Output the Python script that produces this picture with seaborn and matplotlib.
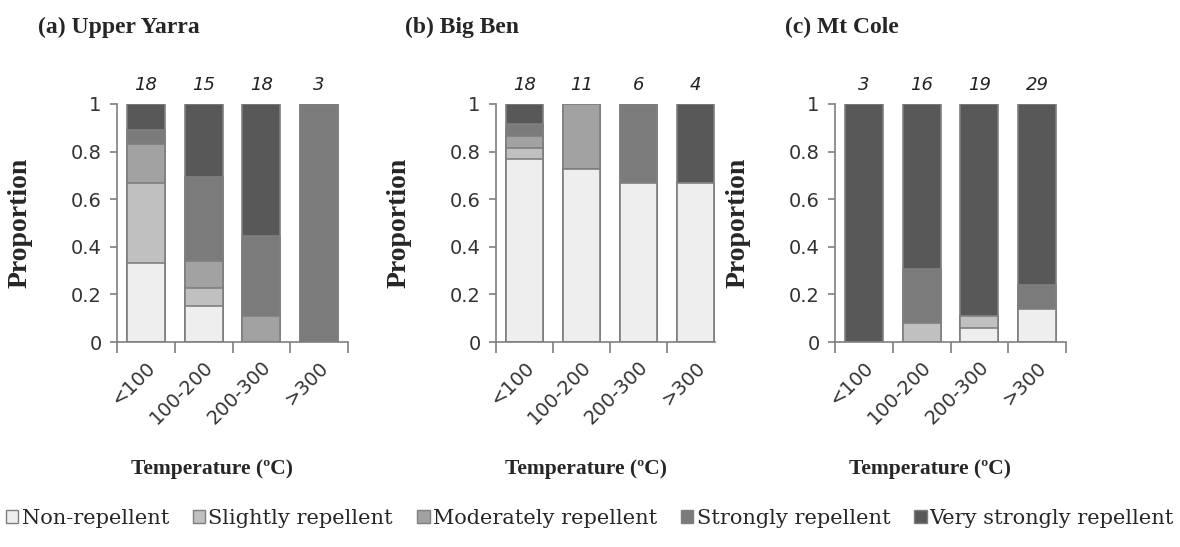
import matplotlib

matplotlib.use("Agg")
import matplotlib.pyplot as plt
import numpy as np
import pandas as pd
import seaborn as sns
from matplotlib.patches import Patch
from matplotlib.ticker import FixedLocator

TEMPS = ["<100", "100-200", "200-300", ">300"]
CLASSES = [
    "Non-repellent",
    "Slightly repellent",
    "Moderately repellent",
    "Strongly repellent",
    "Very strongly repellent",
]
CLASS_COLORS = ["#eeeeee", "#c0c0c0", "#a2a2a2", "#7b7b7b", "#585858"]

# Upper Yarra
yarra_n = [18, 15, 18, 3]
yarra_non = [0.333, 0.15, 0.0, 0.0]
yarra_slight = [0.333, 0.075, 0.0, 0.0]
yarra_moderate = [0.167, 0.115, 0.111, 0.0]
yarra_strong = [0.056, 0.355, 0.333, 1.0]
yarra_very = [0.111, 0.305, 0.556, 0.0]

# Big Ben
bigben_n = [18, 11, 6, 4]
bigben_non = [0.77, 0.725, 0.667, 0.667]
bigben_slight = [0.045, 0.0, 0.0, 0.0]
bigben_moderate = [0.05, 0.275, 0.0, 0.0]
bigben_strong = [0.05, 0.0, 0.333, 0.0]
bigben_very = [0.085, 0.0, 0.0, 0.333]

# Mt Cole
mtcole_n = [3, 16, 19, 29]
mtcole_non = [0.0, 0.0, 0.057, 0.14]
mtcole_slight = [0.0, 0.078, 0.053, 0.0]
mtcole_moderate = [0.0, 0.0, 0.0, 0.0]
mtcole_strong = [0.0, 0.227, 0.0, 0.10]
mtcole_very = [1.0, 0.695, 0.89, 0.76]

SITES = [
    ("(a) Upper Yarra", yarra_n,
     [yarra_non, yarra_slight, yarra_moderate, yarra_strong, yarra_very]),
    ("(b) Big Ben", bigben_n,
     [bigben_non, bigben_slight, bigben_moderate, bigben_strong, bigben_very]),
    ("(c) Mt Cole", mtcole_n,
     [mtcole_non, mtcole_slight, mtcole_moderate, mtcole_strong, mtcole_very]),
]

W, H = 1180, 547
EDGE = "#7f7f7f"

sns.set_theme(style="white")
plt.rcParams["font.family"] = ["DejaVu Sans"]


def px_box(x0, x1, y0, y1):
    return [x0 / W, 1 - y1 / H, (x1 - x0) / W, (y1 - y0) / H]


def to_long(props: list[list[float]]) -> pd.DataFrame:
    rows = []
    for cls, vals in zip(CLASSES, props):
        for t, v in zip(TEMPS, vals):
            rows.append({"temp": t, "cls": cls, "prop": v})
    df = pd.DataFrame(rows)
    df["cls"] = pd.Categorical(df["cls"], CLASSES, ordered=True)
    df = df.sort_values(["temp", "cls"])
    df["cum"] = df.groupby("temp", sort=False)["prop"].cumsum()
    return df


def draw_panel(ax, title, n, props, xmax, title_x, width_px):
    df = to_long(props)
    # draw from the top class down so lower segments sit on top
    for cls, color in reversed(list(zip(CLASSES, CLASS_COLORS))):
        sub = df[df["cls"] == cls]
        sns.barplot(
            data=sub, x="temp", y="cum", order=TEMPS, color=color,
            width=0.66, edgecolor=EDGE, linewidth=1.2, errorbar=None,
            saturation=1, ax=ax,
        )

    ax.set_ylim(0, 1)
    ax.set_xlim(-0.5, xmax)
    ax.set_yticks(np.arange(0, 1.01, 0.2))
    ax.set_yticklabels(["0", "0.2", "0.4", "0.6", "0.8", "1"])
    ax.xaxis.set_minor_locator(FixedLocator(np.arange(-0.5, 4, 1.0)))
    ax.tick_params(axis="x", which="major", length=0, pad=11)
    ax.tick_params(axis="x", which="minor", length=8, width=1.2,
                   color=EDGE, direction="out", bottom=True)
    ax.tick_params(axis="y", length=5, width=1.2, color=EDGE,
                   direction="out", left=True, labelsize=14,
                   labelcolor="#333333", pad=6)
    ax.set_xticks(range(len(TEMPS)))
    ax.set_xticklabels(TEMPS, rotation=45, ha="right",
                       rotation_mode="anchor", fontsize=14, color="#333333")

    for side in ("top", "right"):
        ax.spines[side].set_visible(False)
    for side in ("left", "bottom"):
        ax.spines[side].set_color(EDGE)
        ax.spines[side].set_linewidth(1.2)

    for i, cnt in enumerate(n):
        ax.text(i, 1.04, str(cnt), ha="center", va="bottom",
                fontsize=13, style="italic", color="#222222")

    ax.set_xlabel("Temperature (ºC)", family="Liberation Serif",
                  fontweight="bold", fontsize=15.5)
    ax.xaxis.set_label_coords(0.41, -0.49)
    ax.set_ylabel("Proportion", family="Liberation Serif",
                  fontweight="bold", fontsize=20)
    ax.yaxis.set_label_coords(-84 / width_px, 0.5)

    ax.figure.text(title_x / W, 1 - 27 / H, title, family="Liberation Serif",
                   fontweight="bold", fontsize=17, ha="left", va="center")


fig = plt.figure(figsize=(W / 100, H / 100), dpi=100)
boxes = [(117, 348), (496, 715), (835, 1066)]
xmaxes = [3.5, 3.34, 3.5]
title_xs = [38, 405, 785]
for (title, n, props), (x0, x1), xmax, tx in zip(SITES, boxes, xmaxes, title_xs):
    ax = fig.add_axes(px_box(x0, x1, 104, 342))
    draw_panel(ax, title, n, props, xmax, tx, x1 - x0)

handles = [Patch(facecolor=c, edgecolor=EDGE, linewidth=1.0)
           for c in CLASS_COLORS]
fig.legend(
    handles, CLASSES, loc="center", bbox_to_anchor=(0.5, 1 - 518 / H),
    ncol=5, frameon=False, handlelength=0.6, handleheight=0.6,
    handletextpad=0.15, columnspacing=1.15,
    prop={"family": "DejaVu Serif", "size": 15},
)

fig.savefig("out.png", dpi=100)
